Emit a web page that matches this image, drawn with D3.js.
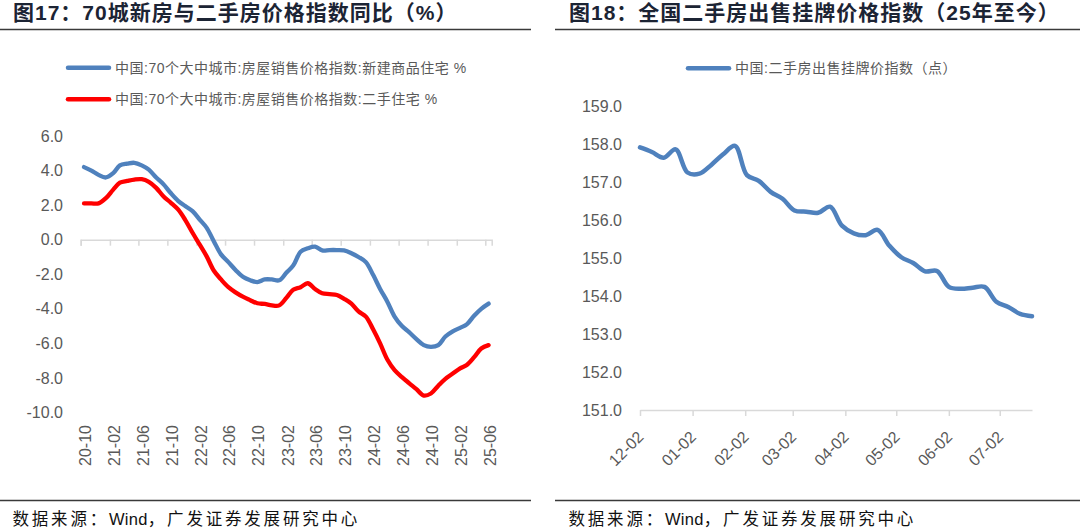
<!DOCTYPE html>
<html>
<head>
<meta charset="utf-8">
<script src="https://cdn.jsdelivr.net/npm/d3@7"></script>
<style>
body{margin:0;background:#fff;}
svg text{font-family:"Liberation Sans","Noto Sans CJK SC",sans-serif;}
</style>
</head>
<body>
<div id="canvas"></div>
<script>
// ---- data: fig 17, monthly YoY % (2020-10 .. 2025-06)
var leftStartMonth = '2020-10',
    leftEndMonth = '2025-07';
var newHomeYoY = [4.2,4.0,3.75,3.6,3.85,4.3,4.4,4.45,4.3,4.05,
    3.6,3.2,2.7,2.25,1.95,1.65,1.15,0.7,-0.1,-0.85,
    -1.3,-1.75,-2.15,-2.35,-2.45,-2.3,-2.3,-2.35,-1.9,-1.5,
    -0.7,-0.5,-0.4,-0.62,-0.6,-0.6,-0.62,-0.78,-1.0,-1.3,
    -2.05,-2.85,-3.6,-4.45,-5.0,-5.35,-5.75,-6.1,-6.2,-6.1,
    -5.6,-5.3,-5.1,-4.9,-4.4,-4.0,-3.7];
var secondHandYoY = [2.1,2.1,2.1,2.4,2.9,3.3,3.4,3.48,3.5,3.35,
    3.0,2.5,2.15,1.75,1.15,0.4,-0.3,-0.95,-1.8,-2.3,
    -2.75,-3.05,-3.3,-3.5,-3.68,-3.72,-3.8,-3.8,-3.35,-2.9,
    -2.75,-2.52,-2.85,-3.1,-3.15,-3.2,-3.42,-3.7,-4.15,-4.45,
    -5.2,-6.0,-6.95,-7.55,-7.95,-8.3,-8.65,-9.02,-8.9,-8.45,
    -8.05,-7.75,-7.45,-7.25,-6.8,-6.3,-6.1];
var leftTicks = ['2020-10','2021-02','2021-06','2021-10','2022-02','2022-06','2022-10','2023-02',
    '2023-06','2023-10','2024-02','2024-06','2024-10','2025-02','2025-06'];
var leftYTicks = [6,4,2,0,-2,-4,-6,-8,-10];
var leftLegend = ['中国:70个大中城市:房屋销售价格指数:新建商品住宅 %',
    '中国:70个大中城市:房屋销售价格指数:二手住宅 %'];

// ---- data: fig 18, weekly listing price index
var rightStartDate = '2024-12-02',
    rightEndDate = '2025-07-21';
var listingIndex = [157.91,157.79,157.64,157.86,157.25,157.22,157.45,157.73,157.95,157.18,
    157.03,156.74,156.56,156.25,156.22,156.19,156.35,155.85,155.65,155.6,
    155.74,155.32,155.02,154.87,154.65,154.66,154.24,154.19,154.22,154.24,
    153.85,153.71,153.53,153.47];
var rightTicks = ['2024-12-02','2025-01-02','2025-02-02','2025-03-02','2025-04-02',
    '2025-05-02','2025-06-02','2025-07-02'];
var rightYTicks = [159,158,157,156,155,154,153,152,151];
var rightLegend = '中国:二手房出售挂牌价指数（点）';

var titles = ['图17：70城新房与二手房价格指数同比（%）', '图18：全国二手房出售挂牌价格指数（25年至今）'];
var source = ['数据来源：', 'Wind', '，广发证券发展研究中心'];

var blue = '#4f81bd', red = '#ff0000', grey = '#595959', axisGrey = '#d9d9d9';
var parseM = d3.timeParse('%Y-%m'), parseD = d3.timeParse('%Y-%m-%d');
var fmt1 = function(d){ return d.toFixed(1); };

var svg = d3.select('#canvas').append('svg')
    .attr('width',1080).attr('height',531);

// frames: titles, rules, source
[{x:13,l:0,r:531},{x:569,l:555,r:1080}].forEach(function(p,i){
    svg.append('text').attr('x',p.x).attr('y',20)
        .attr('font-size','21px').attr('font-weight','bold')
        .attr('letter-spacing','1px').attr('fill','#1c2434')
        .text(titles[i]);
    svg.append('line').attr('x1',p.l).attr('x2',p.r).attr('y1',29.5).attr('y2',29.5)
        .attr('stroke','#3a3a3a').attr('stroke-width',1.5);
    svg.append('line').attr('x1',p.l).attr('x2',p.r).attr('y1',500.5).attr('y2',500.5)
        .attr('stroke','#3a3a3a').attr('stroke-width',1.5);
    var t = svg.append('text').attr('x',p.x - 0.5).attr('y',525)
        .attr('font-size','16.5px').attr('fill','#111');
    source.forEach(function(s,j){
        t.append('tspan').attr('letter-spacing', j===1 ? '0.3px' : '2.8px').text(s);
    });
});

function legendItem(x, y, color, label){
    svg.append('line').attr('x1',x).attr('x2',x+41).attr('y1',y).attr('y2',y)
        .attr('stroke',color).attr('stroke-width',4.5).attr('stroke-linecap','round');
    svg.append('text').attr('x',x+47).attr('y',y).attr('dy','0.36em')
        .attr('font-size','14px').attr('letter-spacing','0.5px').attr('fill',grey)
        .text(label);
}

// ---------- left chart
var months = d3.timeMonth.range(parseM(leftStartMonth), parseM(leftEndMonth));
var xL = d3.scaleTime()
    .domain([parseM(leftStartMonth), d3.timeDay.offset(parseM('2025-06'), 27)])
    .range([80.7, 491.7]);
var yL = d3.scaleLinear().domain([-10,6]).range([412.5,136]);
var leftTickDates = leftTicks.map(parseM);

svg.append('g').attr('class','axis axis-x')
    .attr('transform','translate(0,'+yL(0)+')')
    .call(d3.axisBottom(xL).tickValues(leftTickDates).tickSize(6).tickFormat(''))
    .call(function(g){
        g.selectAll('path,line').attr('stroke',axisGrey).attr('stroke-width',1.5);
    });

svg.append('g').attr('class','labels-x')
    .attr('transform','translate(0,425)')
    .call(d3.axisBottom(xL).tickValues(leftTickDates).tickSize(0).tickFormat(d3.timeFormat('%y-%m')))
    .call(function(g){
        g.select('.domain').remove();
        g.selectAll('text').attr('transform','rotate(-90)')
            .attr('text-anchor','end').attr('x',0).attr('y',0).attr('dy','0.62em')
            .attr('font-size','16px').attr('fill',grey);
    });

svg.append('g').attr('class','y axis')
    .attr('transform','translate(70,0)')
    .call(d3.axisLeft(yL).tickValues(leftYTicks).tickSize(0).tickPadding(7).tickFormat(fmt1))
    .call(function(g){
        g.select('.domain').remove();
        g.selectAll('text').attr('font-size','16px').attr('fill',grey);
    });

var lineL = d3.line()
    .x(function(d,i){ return xL(d3.timeDay.offset(months[i],14)); })
    .y(function(d){ return yL(d); })
    .curve(d3.curveCatmullRom.alpha(0.5));

[[newHomeYoY,blue],[secondHandYoY,red]].forEach(function(s){
    svg.append('path').datum(s[0])
        .attr('d',lineL).attr('fill','none')
        .attr('stroke',s[1]).attr('stroke-width',4.3)
        .attr('stroke-linejoin','round').attr('stroke-linecap','round');
});

legendItem(68, 67.7, blue, leftLegend[0]);
legendItem(68, 99.3, red, leftLegend[1]);

// ---------- right chart
var weeks = d3.timeDay.range(parseD(rightStartDate), d3.timeDay.offset(parseD(rightEndDate),1), 7);
var xR = d3.scaleTime()
    .domain([parseD(rightStartDate), parseD(rightEndDate)])
    .range([640, 1032]);
var yR = d3.scaleLinear().domain([151,159]).range([410,106]);
var rightTickDates = rightTicks.map(parseD);

svg.append('g').attr('class','axis axis-x')
    .attr('transform','translate(0,'+yR(151)+')')
    .call(d3.axisBottom(xR).tickValues(rightTickDates).tickSize(6).tickSizeOuter(0).tickFormat(d3.timeFormat('%m-%d')))
    .call(function(g){
        g.selectAll('path,line').attr('stroke',axisGrey).attr('stroke-width',1.5);
        g.selectAll('text').attr('transform','translate(4,28) rotate(-45)')
            .attr('text-anchor','end').attr('x',0).attr('y',0).attr('dy','0')
            .attr('font-size','16px').attr('fill',grey);
    });

svg.append('g').attr('class','y axis')
    .attr('transform','translate(630,0)')
    .call(d3.axisLeft(yR).tickValues(rightYTicks).tickSize(0).tickPadding(8).tickFormat(fmt1))
    .call(function(g){
        g.select('.domain').remove();
        g.selectAll('text').attr('font-size','16px').attr('fill',grey);
    });

var lineR = d3.line()
    .x(function(d,i){ return xR(weeks[i]); })
    .y(function(d){ return yR(d); })
    .curve(d3.curveCatmullRom.alpha(0.5));

svg.append('path').datum(listingIndex)
    .attr('d',lineR).attr('fill','none')
    .attr('stroke',blue).attr('stroke-width',4.5)
    .attr('stroke-linejoin','round').attr('stroke-linecap','round');

legendItem(688, 68.3, blue, rightLegend);
</script>
</body>
</html>
